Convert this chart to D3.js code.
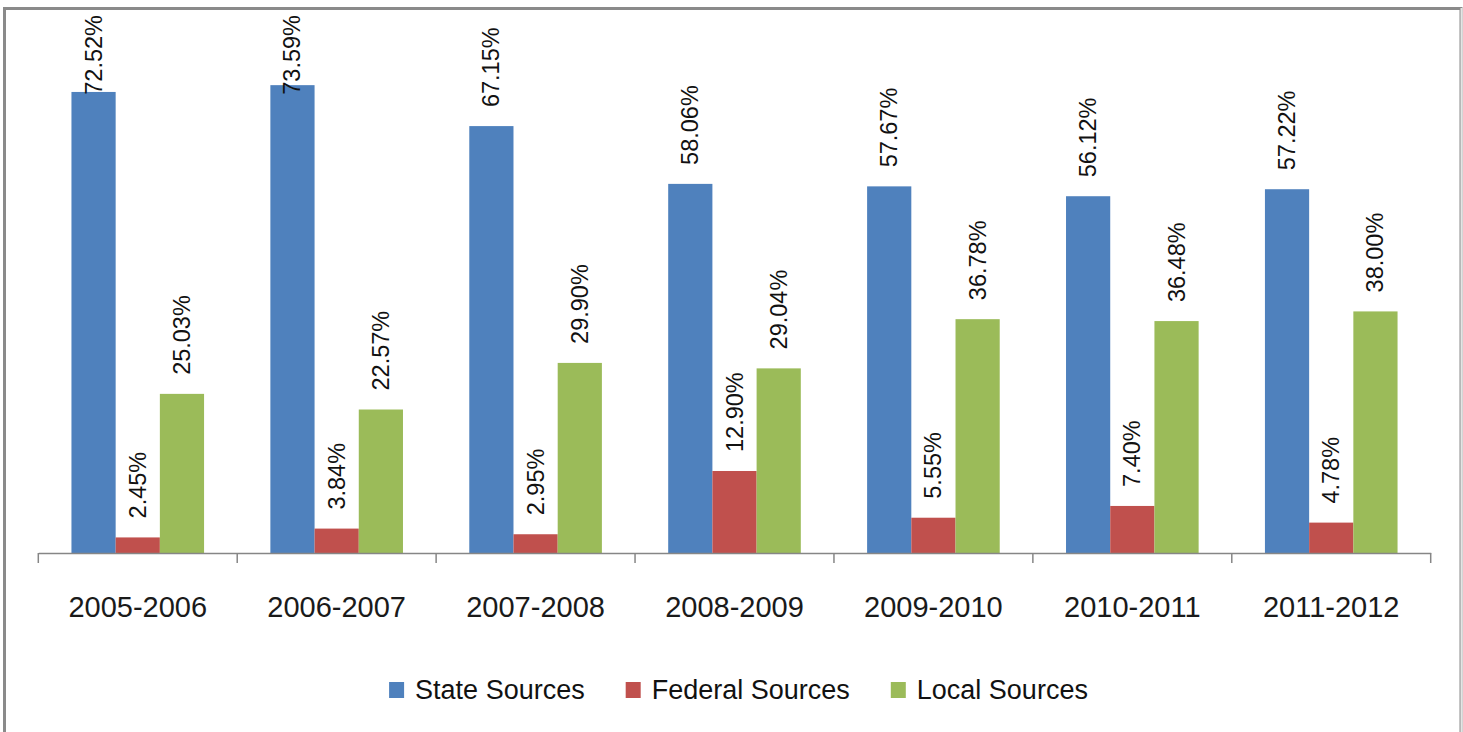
<!DOCTYPE html>
<html><head><meta charset="utf-8">
<script src="https://cdn.jsdelivr.net/npm/d3@7"></script>
<style>html,body{margin:0;padding:0;background:#fff;overflow:hidden}</style>
</head><body>
<svg id="chart" width="1463" height="732"></svg>
<script>
const categories = ["2005-2006","2006-2007","2007-2008","2008-2009","2009-2010","2010-2011","2011-2012"];
const seriesNames = ["State Sources","Federal Sources","Local Sources"];
const stateValues = [72.52,73.59,67.15,58.06,57.67,56.12,57.22];
const federalValues = [2.45,3.84,2.95,12.90,5.55,7.40,4.78];
const localValues = [25.03,22.57,29.90,29.04,36.78,36.48,38.00];
const colors = ["#4F81BD","#C0504D","#9BBB59"];

const seriesValues = [stateValues, federalValues, localValues];
const svg = d3.select("#chart");
const font = "'Liberation Sans', Arial, sans-serif";

// frame
svg.append("rect").attr("x",4.5).attr("y",8.5).attr("width",1456.5).attr("height",740)
  .attr("fill","none").attr("stroke","#8a8a8a").attr("stroke-width",3);
svg.append("line").attr("x1",1461.5).attr("x2",1461.5).attr("y1",8).attr("y2",732)
  .attr("stroke","#e4e4e4").attr("stroke-width",2);

const x0 = d3.scaleBand().domain(categories).range([38.3,1430.7]).padding(0);
const x1 = d3.scaleBand().domain(seriesNames).range([0,x0.bandwidth()]).paddingInner(0).paddingOuter(0.75);
const y = d3.scaleLinear().domain([0,80]).range([553,44.4]);

const data = [];
categories.forEach((c,i)=>seriesNames.forEach((s,j)=>data.push({c,s,j,v:seriesValues[j][i]})));

svg.append("g").selectAll("rect").data(data).join("rect")
  .attr("x",d=>x0(d.c)+x1(d.s))
  .attr("y",d=>y(d.v))
  .attr("width",x1.bandwidth())
  .attr("height",d=>y(0)-y(d.v))
  .attr("fill",d=>colors[d.j]);

// axis
const axis = d3.axisBottom(x0).tickSize(0).tickFormat("");
const ag = svg.append("g").attr("transform","translate(0,553)").call(axis);
ag.select(".domain").attr("stroke","#868686").attr("stroke-width",1.5);
const tickXs = d3.range(categories.length+1).map(i=>x0.range()[0]+i*x0.step());
svg.append("g").selectAll("line").data(tickXs).join("line")
  .attr("x1",d=>d).attr("x2",d=>d).attr("y1",553).attr("y2",563)
  .attr("stroke","#868686").attr("stroke-width",1.5);

svg.append("g").selectAll("text").data(categories).join("text")
  .attr("x",d=>x0(d)+x0.bandwidth()/2).attr("y",617)
  .attr("text-anchor","middle").attr("font-family",font).attr("font-size",29)
  .attr("fill","#1a1a1a").text(d=>d);

// data labels
const labelSize = 23.5;
svg.append("g").selectAll("text").data(data).join("text")
  .attr("font-family",font).attr("font-size",labelSize).attr("fill","#111")
  .attr("dominant-baseline","central").attr("text-anchor","start")
  .text(d=>d.v.toFixed(2)+"%")
  .each(function(d){
    const len = this.getComputedTextLength();
    const cx = x0(d.c)+x1(d.s)+x1.bandwidth()/2;
    let start = y(d.v)-19;
    if (start-len < 15) start = 15+len;
    d3.select(this).attr("transform",`translate(${cx},${start}) rotate(-90)`);
  });

// legend
const lg = svg.append("g");
let cursor = 0;
const items = [];
seriesNames.forEach((s,j)=>{
  const g = lg.append("g");
  g.append("rect").attr("x",0).attr("y",682).attr("width",15).attr("height",16).attr("fill",colors[j]);
  const t = g.append("text").attr("x",26).attr("y",699).attr("font-family",font).attr("font-size",27)
    .attr("fill","#111").text(s);
  const w = 26 + t.node().getComputedTextLength();
  items.push({g,w});
});
const gap = 41;
const total = d3.sum(items,d=>d.w)+gap*(items.length-1);
let xs = 738.5-total/2;
items.forEach(it=>{ it.g.attr("transform",`translate(${xs},0)`); xs += it.w+gap; });
</script>
</body></html>
